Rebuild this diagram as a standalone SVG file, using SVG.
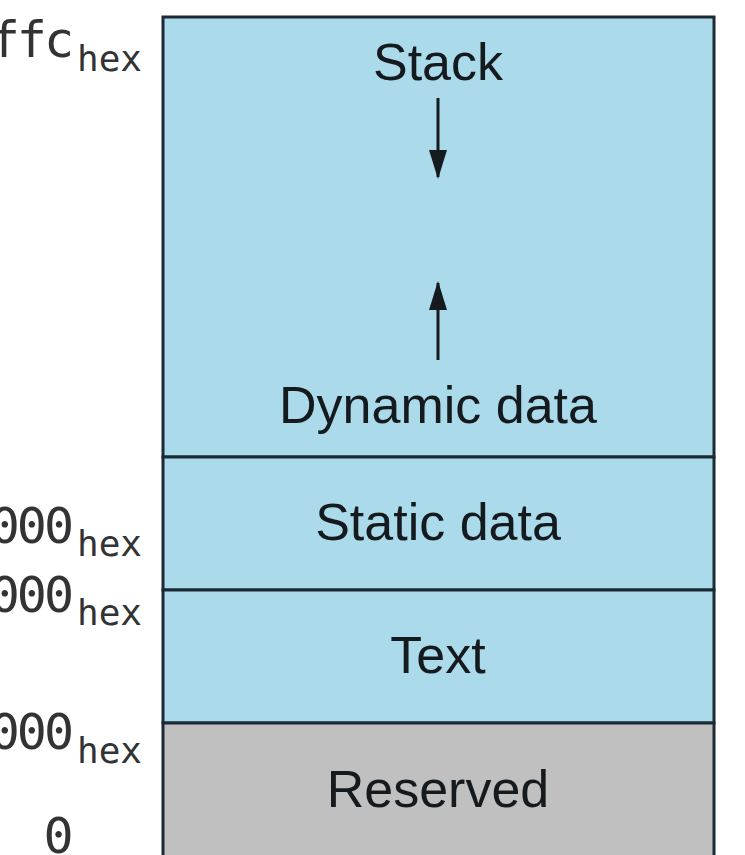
<svg xmlns="http://www.w3.org/2000/svg" width="745" height="855" viewBox="0 0 745 855">
  <style>
    .seg { stroke: #1b2a35; stroke-width: 3; }
    .mem { fill: #abdbeb; }
    .res { fill: #c0c0c0; }
    .label { font-family: "Liberation Sans", Arial, sans-serif; font-size: 52px; fill: #151a1e; text-anchor: middle; }
    .addr { font-family: "DejaVu Sans Mono", monospace; font-size: 50px; fill: #333333; letter-spacing: -3px; }
    .sub { font-family: "DejaVu Sans Mono", monospace; font-size: 36px; fill: #333333; }
    .arrow { stroke: #151a1e; stroke-width: 3; fill: none; }
  </style>
  <defs>
    <!-- filled triangular head, 29 long and 18 wide in user units -->
    <marker id="head" markerUnits="userSpaceOnUse" markerWidth="29" markerHeight="18" refX="27" refY="9" orient="auto" viewBox="0 0 29 18">
      <path d="M0,0 L29,9 L0,18 Z" fill="#151a1e"/>
    </marker>
  </defs>

  <rect width="745" height="855" fill="#ffffff"/>

  <!-- memory segments, top to bottom -->
  <g id="stack-dynamic">
    <rect class="seg mem" x="163" y="17" width="551" height="440"/>
    <text class="label" x="438" y="80">Stack</text>
    <text class="label" x="438" y="423">Dynamic data</text>
  </g>
  <g id="static-data">
    <rect class="seg mem" x="163" y="457" width="551" height="133"/>
    <text class="label" x="438" y="540">Static data</text>
  </g>
  <g id="text-segment">
    <rect class="seg mem" x="163" y="590" width="551" height="133"/>
    <text class="label" x="438" y="673">Text</text>
  </g>
  <g id="reserved">
    <rect class="seg res" x="163" y="723" width="551" height="150"/>
    <text class="label" x="438" y="807">Reserved</text>
  </g>

  <!-- growth arrows -->
  <g id="connectors">
    <line class="arrow" x1="438" y1="98" x2="438" y2="177" marker-end="url(#head)"/>
    <line class="arrow" x1="438" y1="360" x2="438" y2="283" marker-end="url(#head)"/>
  </g>

  <!-- address labels -->
  <g id="addresses">
    <text class="addr" x="71" y="57" text-anchor="end">ffc</text>
    <text class="sub" x="77" y="71">hex</text>
    <text class="addr" x="71" y="543" text-anchor="end">000</text>
    <text class="sub" x="77" y="556">hex</text>
    <text class="addr" x="71" y="612" text-anchor="end">000</text>
    <text class="sub" x="77" y="625">hex</text>
    <text class="addr" x="71" y="749" text-anchor="end">000</text>
    <text class="sub" x="77" y="763">hex</text>
    <text class="addr" x="57" y="853" text-anchor="middle">0</text>
  </g>
</svg>
